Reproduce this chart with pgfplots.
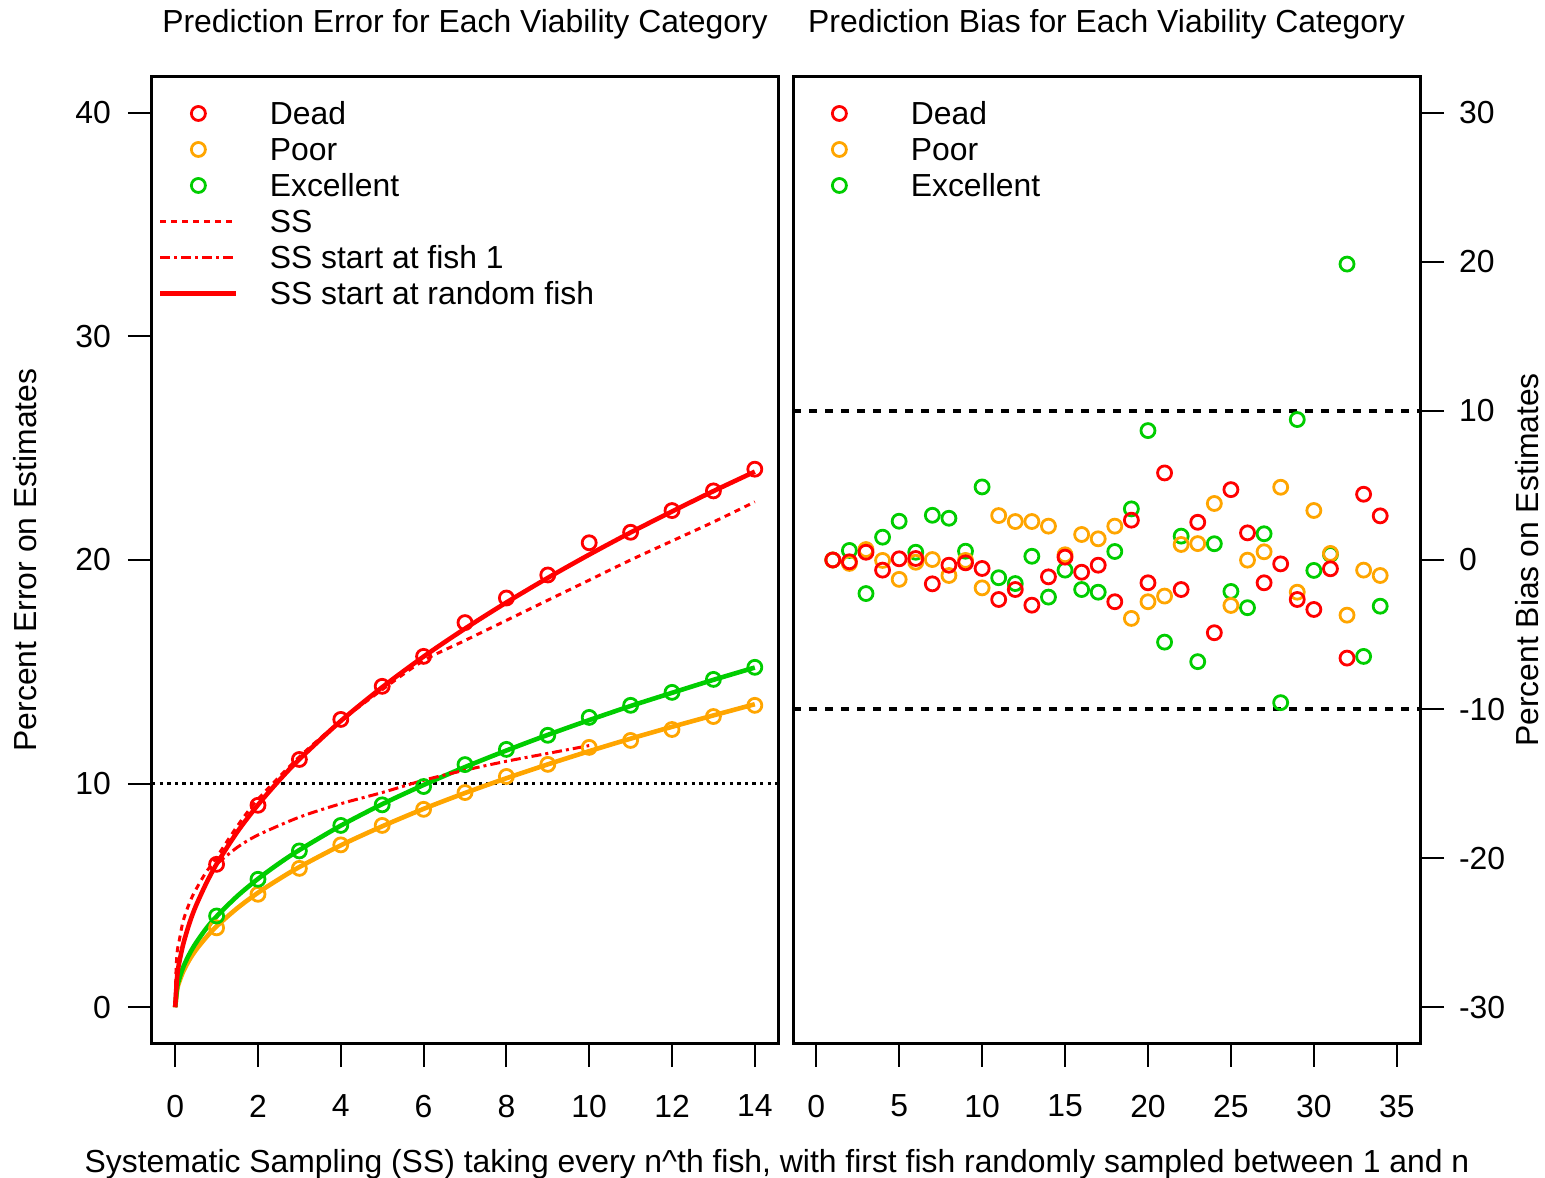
\documentclass[border=0pt]{standalone}
\usepackage{fontspec}
\setmainfont{Liberation Sans}
\usepackage{pgfplots}
\pgfplotsset{compat=1.18}
\definecolor{rred}{RGB}{255,0,0}
\definecolor{rorange}{RGB}{255,165,0}
\definecolor{rgreen}{RGB}{0,205,0}
\pgfplotsset{
 myleg/.style={legend image code/.code={\path[draw=none,fill=none] (-1.2bp,-1bp) rectangle (39.2bp,1bp);\draw[mark repeat=2,mark phase=2,##1] plot coordinates {(0bp,0bp)(19bp,0bp)(38bp,0bp)};}},
 Rbase/.style={
   scale only axis, height=483bp,
   axis line style={line width=1.5bp},
   tick align=outside, major tick length=12bp,
   tick style={line width=1bp, black},
   /pgf/number format/assume math mode=true,
   ticklabel style={font=\fontsize{16}{19}\selectfont},
   xticklabel style={yshift=-10.5bp},
   legend cell align=left,
   legend style={draw=none, fill=none, inner sep=0pt, outer sep=0pt,
     at={(axis description cs:0,1)}, anchor=north west, xshift=3bp, yshift=-12.5bp,
     nodes={inner sep=0pt, text height=11.5bp, text depth=0pt},
     row sep=6.5bp, /tikz/every odd column/.append style={column sep=15.5bp},
     font=\fontsize{16}{19}\selectfont},
   title style={at={(axis description cs:0.5,1)}, anchor=base, yshift=16.5bp, font=\fontsize{16}{19}\selectfont},
   mark size=3.5bp,
   every axis plot/.append style={mark options={solid, line width=1.4bp}},
 },
}
\begin{document}
\begin{tikzpicture}
\useasboundingbox (-76bp,-67.5bp) rectangle (696.5bp,521.5bp);
% ---------------- left panel ----------------
\begin{axis}[Rbase, name=L, at={(0,0)}, anchor=south west, width=313bp,
 xmin=-0.56, xmax=14.56, ymin=-1.6, ymax=41.6,
 xtick={0,2,...,14}, ytick={0,10,...,40},
 xtick pos=left, ytick pos=left,
 yticklabel style={xshift=-5bp},
 title={Prediction Error for Each Viability Category},
 ylabel={Percent Error on Estimates},
 every axis y label/.style={at={(axis description cs:-0.203,0.5)}, rotate=90, anchor=center, font=\fontsize{16}{19}\selectfont},
]
\addlegendimage{only marks, mark=o, rred, myleg}
\addlegendentry{Dead}
\addlegendimage{only marks, mark=o, rorange, myleg}
\addlegendentry{Poor}
\addlegendimage{only marks, mark=o, rgreen, myleg}
\addlegendentry{Excellent}
\addlegendimage{rred, line width=1.5bp, dash pattern=on 3bp off 2.5bp, myleg}
\addlegendentry{SS}
\addlegendimage{rred, line width=1.5bp, dash pattern=on 5bp off 2bp on 1.5bp off 2bp, myleg}
\addlegendentry{SS start at fish 1}
\addlegendimage{rred, line width=2.3bp, myleg}
\addlegendentry{SS start at random fish}

\addplot[forget plot, black, line width=1.5bp, dash pattern=on 1.7bp off 2.1bp] coordinates {(-0.56,10) (14.56,10)};

% orange fit
\addplot[forget plot, rorange, line width=2.3bp, smooth] coordinates {
(0,0) (0.05,0.81) (0.1,1.14) (0.2,1.62) (0.35,2.14) (0.5,2.56) (0.75,3.13) (1,3.62) (1.5,4.43) (2,5.12) (2.5,5.72) (3,6.27) (4,7.24) (5,8.09) (6,8.87) (7,9.58) (8,10.24) (9,10.86) (10,11.45) (11,12.01) (12,12.54) (13,13.05) (14,13.55)};
% green fit
\addplot[forget plot, rgreen, line width=2.3bp, smooth] coordinates {
(0,0) (0.05,0.91) (0.1,1.28) (0.2,1.82) (0.35,2.40) (0.5,2.87) (0.75,3.52) (1,4.06) (1.5,4.97) (2,5.74) (2.5,6.42) (3,7.03) (4,8.12) (5,9.08) (6,9.94) (7,10.74) (8,11.48) (9,12.18) (10,12.84) (11,13.47) (12,14.06) (13,14.64) (14,15.19)};
% red SS dotted
\addplot[forget plot, rred, line width=1.5bp, dash pattern=on 3bp off 2.5bp, smooth] coordinates {
(0,0) (0.02,1.6) (0.05,2.5) (0.1,3.0) (0.2,3.9) (0.4,4.9) (0.7,5.9) (1,6.7) (1.5,8.1) (2,9.3) (3,11.2) (4,12.8) (5,14.2) (6,15.5) (7,16.4) (8,17.3) (9,18.2) (10,19.1) (11,20.0) (12,20.85) (13,21.7) (14,22.6)};
% red SS start at fish 1
\addplot[forget plot, rred, line width=1.5bp, dash pattern=on 5bp off 2bp on 1.5bp off 2bp, smooth] coordinates {
(1,6.4) (1.5,7.15) (2,7.7) (3,8.5) (4,9.1) (5,9.6) (6,10.15) (7,10.6) (8,11.0) (9,11.35) (10,11.7)};
% red fit
\addplot[forget plot, rred, line width=2.3bp, smooth] coordinates {
(0,0) (0.05,1.43) (0.1,2.02) (0.2,2.86) (0.35,3.79) (0.5,4.53) (0.75,5.54) (1,6.40) (1.5,7.84) (2,9.05) (2.5,10.12) (3,11.09) (4,12.80) (5,14.31) (6,15.68) (7,16.93) (8,18.10) (9,19.20) (10,20.24) (11,21.23) (12,22.17) (13,23.08) (14,23.95)};

% simulated points
\addplot[forget plot, only marks, mark=o, rorange] coordinates {
(1,3.55) (2,5.05) (3,6.21) (4,7.26) (5,8.13) (6,8.85) (7,9.6) (8,10.32) (9,10.86) (10,11.62) (11,11.93) (12,12.42) (13,13.0) (14,13.5)};
\addplot[forget plot, only marks, mark=o, rgreen] coordinates {
(1,4.08) (2,5.72) (3,6.99) (4,8.13) (5,9.05) (6,9.87) (7,10.85) (8,11.53) (9,12.16) (10,12.96) (11,13.5) (12,14.08) (13,14.66) (14,15.2)};
\addplot[forget plot, only marks, mark=o, rred] coordinates {
(1,6.39) (2,9.03) (3,11.08) (4,12.87) (5,14.35) (6,15.69) (7,17.2) (8,18.3) (9,19.33) (10,20.77) (11,21.24) (12,22.21) (13,23.09) (14,24.06)};
\end{axis}

% ---------------- right panel ----------------
\begin{axis}[Rbase, name=R, at={(320.5bp,0)}, anchor=south west, width=313.5bp,
 xmin=-1.4, xmax=36.4, ymin=-32.4, ymax=32.4,
 xtick={0,5,...,35}, ytick={-30,-20,...,30},
 xtick pos=left, ytick pos=right, yticklabel pos=right,
 yticklabel style={xshift=4bp},
 title={Prediction Bias for Each Viability Category},
 ylabel={Percent Bias on Estimates},
 every axis y label/.style={at={(axis description cs:1.170,0.5)}, rotate=90, anchor=center, font=\fontsize{16}{19}\selectfont},
]
\addlegendimage{only marks, mark=o, rred, myleg}
\addlegendentry{Dead}
\addlegendimage{only marks, mark=o, rorange, myleg}
\addlegendentry{Poor}
\addlegendimage{only marks, mark=o, rgreen, myleg}
\addlegendentry{Excellent}

\addplot[forget plot, black, line width=2.3bp, dash pattern=on 4bp off 4bp] coordinates {(-1.4,10) (36.4,10)};
\addplot[forget plot, black, line width=2.3bp, dash pattern=on 4bp off 4bp] coordinates {(-1.4,-10) (36.4,-10)};

\addplot[forget plot, only marks, mark=o, rgreen] coordinates {
(1,0) (2,0.64) (3,-2.25) (4,1.53) (5,2.6) (6,0.52) (7,3.0) (8,2.8) (9,0.59) (10,4.9)
(11,-1.19) (12,-1.58) (13,0.25) (14,-2.49) (15,-0.68) (16,-1.98) (17,-2.16) (18,0.57) (19,3.43) (20,8.68)
(21,-5.51) (22,1.6) (23,-6.82) (24,1.09) (25,-2.11) (26,-3.2) (27,1.76) (28,-9.57) (29,9.42) (30,-0.7)
(31,0.37) (32,19.85) (33,-6.47) (34,-3.1)};
\addplot[forget plot, only marks, mark=o, rorange] coordinates {
(1,0) (2,-0.23) (3,0.7) (4,-0.03) (5,-1.3) (6,-0.15) (7,0.03) (8,-1.04) (9,-0.03) (10,-1.87)
(11,2.98) (12,2.58) (13,2.58) (14,2.27) (15,0.35) (16,1.71) (17,1.42) (18,2.27) (19,-3.92) (20,-2.8)
(21,-2.42) (22,1.04) (23,1.1) (24,3.79) (25,-3.05) (26,-0.01) (27,0.55) (28,4.88) (29,-2.16) (30,3.32)
(31,0.44) (32,-3.7) (33,-0.68) (34,-1.04)};
\addplot[forget plot, only marks, mark=o, rred] coordinates {
(1,0) (2,-0.12) (3,0.52) (4,-0.68) (5,0.08) (6,0.1) (7,-1.6) (8,-0.35) (9,-0.19) (10,-0.57)
(11,-2.65) (12,-1.98) (13,-3.03) (14,-1.13) (15,0.19) (16,-0.82) (17,-0.35) (18,-2.8) (19,2.67) (20,-1.53)
(21,5.84) (22,-1.98) (23,2.53) (24,-4.88) (25,4.72) (26,1.82) (27,-1.53) (28,-0.26) (29,-2.65) (30,-3.32)
(31,-0.59) (32,-6.58) (33,4.41) (34,2.96)};
\end{axis}

\node[anchor=base, font=\fontsize{16}{19}\selectfont] at (312.5bp,-64.5bp)
 {Systematic Sampling (SS) taking every n\textasciicircum th fish, with first fish randomly sampled between 1 and n};
\end{tikzpicture}
\end{document}
